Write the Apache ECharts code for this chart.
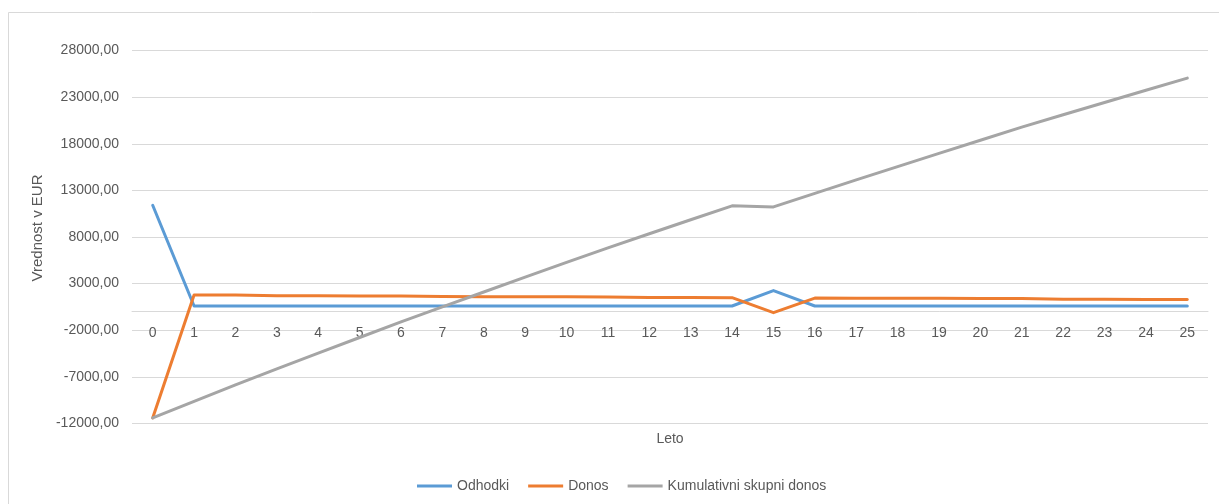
<!DOCTYPE html>
<html>
<head>
<meta charset="utf-8">
<title>Odhodki in donos</title>
<script src="https://cdn.jsdelivr.net/npm/echarts@6/dist/echarts.min.js"></script>
<style>
  html, body { margin: 0; padding: 0; background: #ffffff; }
  #chart { width: 1219px; height: 504px; }
</style>
</head>
<body>
<div id="chart"></div>
<script>
// Leta (kategorije na osi x)
const years = ['0','1','2','3','4','5','6','7','8','9','10','11','12','13','14','15','16','17','18','19','20','21','22','23','24','25'];

// Odhodki po letih (EUR)
const odhodki = [11400, 600, 600, 600, 600, 600, 600, 600, 600, 600, 600, 600, 600, 600, 600, 2250, 600, 600, 600, 600, 600, 600, 600, 600, 600, 600];

// Letni donos (EUR)
const donos = [-11400, 1780, 1770, 1700, 1690, 1680, 1670, 1610, 1600, 1590, 1580, 1570, 1510, 1500, 1490, -110, 1450, 1440, 1430, 1420, 1410, 1400, 1330, 1320, 1310, 1300];

// Kumulativni skupni donos (EUR)
const kumulativa = [-11400, -9620, -7850, -6150, -4460, -2780, -1110, 500, 2100, 3690, 5270, 6840, 8350, 9850, 11340, 11230, 12680, 14120, 15550, 16970, 18380, 19780, 21110, 22430, 23740, 25040];

// Razpon in korak osi y
const yMin = -12000;
const yMax = 28000;
const yStep = 5000;

const seriesNames = ['Odhodki', 'Donos', 'Kumulativni skupni donos'];
const seriesColors = ['#5B9BD5', '#ED7D31', '#A5A5A5'];
const seriesData = [odhodki, donos, kumulativa];

const font = '"Liberation Sans", Arial, sans-serif';
const textGray = '#595959';
const lineGray = '#d9d9d9';

const chart = echarts.init(document.getElementById('chart'), null, { renderer: 'canvas' });

function buildOption(xOffset) {
  return {
    animation: false,
    backgroundColor: '#ffffff',
    textStyle: { fontFamily: font },
    graphic: [{
      type: 'rect',
      silent: true,
      z: -10,
      shape: { x: 8.5, y: 12.5, width: 1400, height: 700 },
      style: { fill: 'none', stroke: lineGray, lineWidth: 1 }
    }],
    grid: { left: 132, right: 11, top: 50.5, bottom: 80.5, outerBoundsMode: 'none', containLabel: false },
    legend: {
      left: 412,
      top: 474,
      itemWidth: 35,
      itemHeight: 3,
      itemGap: 19,
      icon: 'rect',
      textStyle: { color: textGray, fontSize: 14, fontFamily: font },
      data: seriesNames
    },
    xAxis: {
      type: 'category',
      data: years,
      boundaryGap: true,
      position: 'bottom',
      offset: xOffset,
      name: 'Leto',
      nameLocation: 'middle',
      nameGap: 121,
      nameTextStyle: { color: textGray, fontSize: 14, fontFamily: font },
      axisLine: { onZero: false, lineStyle: { color: lineGray, width: 1 } },
      axisTick: { show: false },
      axisLabel: { color: textGray, fontSize: 14, margin: 15, fontFamily: font, interval: 0 },
      splitLine: { show: false }
    },
    yAxis: {
      type: 'value',
      min: yMin,
      max: yMax,
      interval: yStep,
      name: 'Vrednost v EUR',
      nameLocation: 'middle',
      nameGap: 78,
      nameTextStyle: { color: textGray, fontSize: 15, fontFamily: font, padding: [0, 0, 0, 18] },
      axisLine: { show: false },
      axisTick: { show: false },
      axisLabel: {
        color: textGray,
        fontSize: 14,
        margin: 13,
        fontFamily: font,
        formatter: v => v.toFixed(2).replace('.', ',')
      },
      splitLine: { lineStyle: { color: lineGray, width: 1 } }
    },
    series: seriesNames.map((name, i) => ({
      name: name,
      type: 'line',
      data: seriesData[i],
      symbol: 'none',
      showSymbol: false,
      color: seriesColors[i],
      lineStyle: { color: seriesColors[i], width: 3, cap: 'round', join: 'round' },
      z: 2 + i
    }))
  };
}

chart.setOption(buildOption(0));
// Kategorijsko os premaknemo na vrednost 0 glede na lestvico osi y
const zeroY = chart.convertToPixel({ yAxisIndex: 0 }, 0);
const bottomY = chart.convertToPixel({ yAxisIndex: 0 }, yMin);
chart.setOption(buildOption(zeroY - bottomY));
</script>
</body>
</html>
